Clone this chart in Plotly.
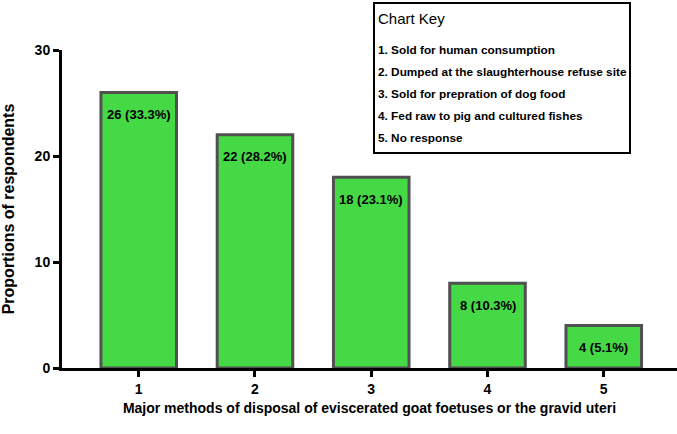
import plotly.graph_objects as go

categories = [1, 2, 3, 4, 5]
counts = [26, 22, 18, 8, 4]
percent_labels = ["26 (33.3%)", "22 (28.2%)", "18 (23.1%)", "8 (10.3%)", "4 (5.1%)"]
key_title = "Chart Key"
key_items = [
    "1. Sold for human consumption",
    "2. Dumped at the slaughterhouse refuse site",
    "3. Sold for prepration of dog food",
    "4. Fed raw to pig and cultured fishes",
    "5. No response",
]
y_ticks = [0, 10, 20, 30]

FONT = "Liberation Sans, Arial, sans-serif"

fig = go.Figure()
fig.add_trace(go.Bar(
    x=categories, y=counts,
    marker=dict(color="#46d946", line=dict(color="#505050", width=3)),
    width=0.65, hoverinfo="skip",
))

for c, v, t in zip(categories, counts, percent_labels):
    fig.add_annotation(x=c, y=v, text="<b>" + t + "</b>", showarrow=False,
                       yanchor="middle", yshift=-22,
                       font=dict(family=FONT, size=13, color="black"))

L, R, T, B = 62, 0, 50, 66
W, H = 677, 434
pw, ph = W - L - R, H - T - B

def px(x):
    return (x - L) / pw

def py(y):
    return (H - B - y) / ph

fig.add_shape(type="rect", xref="paper", yref="paper",
              x0=px(374), x1=px(630), y0=py(153), y1=py(3),
              line=dict(color="black", width=2), fillcolor="white")
fig.add_annotation(xref="paper", yref="paper", x=px(376), y=py(18),
                   text=key_title, showarrow=False, xanchor="left", yanchor="middle",
                   font=dict(family=FONT, size=15, color="black"))
for i, item in enumerate(key_items):
    fig.add_annotation(xref="paper", yref="paper", x=px(376), y=py(50 + 22 * i),
                       text="<b>" + item + "</b>", showarrow=False, xanchor="left", yanchor="middle",
                       font=dict(family=FONT, size=11.8, color="black"))

fig.update_layout(
    width=W, height=H,
    margin=dict(l=L, r=R, t=T, b=B),
    plot_bgcolor="white", paper_bgcolor="white",
    showlegend=False,
    xaxis=dict(range=[0.34, 5.63], tickvals=categories,
               ticktext=["<b>%d</b>" % c for c in categories],
               ticks="outside", ticklen=6,
               tickwidth=3, tickcolor="black", showline=True, linecolor="black",
               linewidth=3, showgrid=False, zeroline=False,
               tickfont=dict(family=FONT, size=14, color="black"),
               title=dict(text="<b>Major methods of disposal of eviscerated goat foetuses or the gravid uteri</b>",
                          font=dict(family=FONT, size=14, color="black"), standoff=8)),
    yaxis=dict(range=[0, 30], tickvals=y_ticks,
               ticktext=["<b>%d</b>" % t for t in y_ticks],
               ticks="outside", ticklen=6,
               tickwidth=3, tickcolor="black", showline=True, linecolor="black",
               linewidth=3, showgrid=False, zeroline=False,
               tickfont=dict(family=FONT, size=14, color="black"),
               title=dict(text="<b>Proportions of respondents</b>",
                          font=dict(family=FONT, size=16, color="black"),
                          standoff=20)),
)

fig.write_html("out.html", config={"displayModeBar": False},
               post_script="document.body.style.margin='0';")
